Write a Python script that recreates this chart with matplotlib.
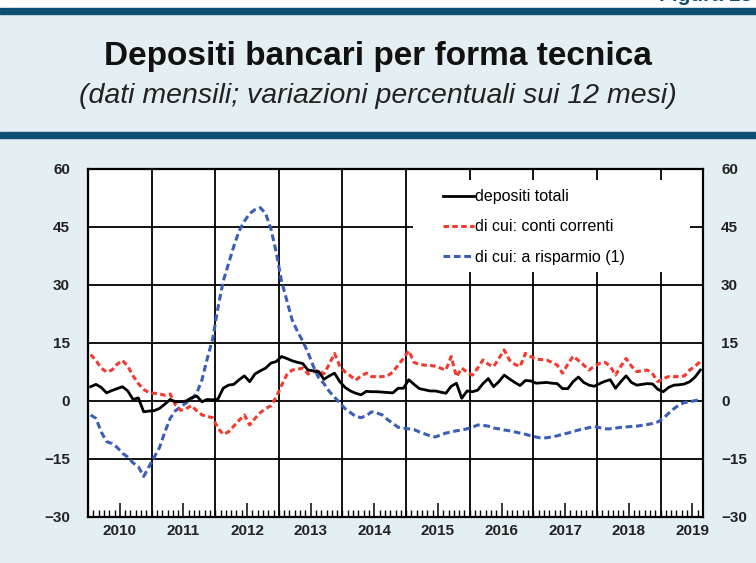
import numpy as np
import matplotlib
matplotlib.use("Agg")
import matplotlib.pyplot as plt
from matplotlib.patches import Rectangle

plt.rcParams['font.family'] = ['Liberation Sans', 'DejaVu Sans']

# monthly data, Jan 2010 - Aug 2019
years = [2010, 2011, 2012, 2013, 2014, 2015, 2016, 2017, 2018, 2019]

totali = [3.7, 4.3, 3.5, 2.1, 2.7, 3.2, 3.7, 2.6, 0.4, 0.8, -2.8, -2.6,
          -2.5, -1.9, -0.8, 0.4, -0.2, -0.2, 0.0, 0.8, 1.3, -0.2, 0.4, 0.3,
          0.5, 3.3, 4.1, 4.3, 5.5, 6.5, 5.0, 7.0, 7.8, 8.5, 9.8, 10.2,
          11.5, 11.0, 10.4, 10.0, 9.7, 8.0, 7.8, 7.6, 5.6, 6.5, 7.2, 5.0,
          3.5, 2.6, 2.0, 1.6, 2.5, 2.4, 2.4, 2.3, 2.2, 2.1, 3.3, 3.3,
          5.5, 4.3, 3.2, 2.9, 2.6, 2.6, 2.3, 2.0, 3.8, 4.6, 0.7, 2.6,
          2.4, 2.8, 4.5, 5.8, 3.7, 5.0, 6.7, 5.7, 4.8, 4.0, 5.3, 5.2,
          4.6, 4.7, 4.8, 4.6, 4.5, 3.2, 3.2, 5.0, 6.2, 4.8, 4.1, 3.8,
          4.5, 5.1, 5.5, 3.3, 5.0, 6.5, 4.8, 4.1, 4.3, 4.5, 4.4, 3.0,
          2.4, 3.5, 4.1, 4.2, 4.4, 5.0, 6.2, 8.0]

conti = [12.0, 10.5, 8.5, 7.5, 8.0, 9.5, 10.5, 9.0, 6.5, 4.5, 3.0, 2.2,
         2.0, 1.8, 1.5, 1.8, -1.0, -2.4, -2.0, -1.2, -2.5, -3.6, -4.0, -4.3,
         -7.0, -8.6, -8.0, -6.5, -5.0, -3.6, -6.2, -4.5, -3.0, -2.0, -1.2, 1.0,
         4.0, 6.8, 8.0, 8.2, 8.5, 7.0, 7.5, 8.0, 7.0, 9.5, 12.3, 9.0,
         7.5, 6.5, 5.4, 6.5, 7.2, 6.3, 6.3, 6.3, 6.5, 7.5, 9.3, 11.0,
         13.0, 10.0, 9.4, 9.3, 9.2, 9.0, 8.5, 8.0, 11.5, 6.3, 8.5, 7.5,
         6.7, 8.5, 10.6, 9.5, 8.9, 11.0, 13.2, 10.6, 9.5, 8.9, 12.3, 11.5,
         10.8, 10.7, 10.6, 10.0, 9.3, 7.2, 9.5, 11.6, 10.5, 9.3, 8.0, 9.0,
         9.7, 10.0, 9.0, 6.7, 9.0, 11.0, 9.0, 7.6, 7.8, 8.0, 7.0, 5.0,
         5.8, 6.3, 6.3, 6.3, 6.5, 8.0, 9.0, 10.2]

risparmio = [-3.6, -4.5, -8.0, -10.5, -11.0, -12.0, -13.5, -14.5, -16.0, -17.0, -19.5, -17.0,
             -14.5, -12.0, -8.0, -4.5, -2.5, -1.5, -0.5, 0.5, 2.0, 5.5, 11.0, 16.0,
             24.0, 31.0, 35.5, 40.0, 44.0, 46.5, 48.5, 49.5, 50.0, 48.5, 44.5, 38.5,
             31.0, 26.0, 21.0, 18.0, 15.5, 12.5, 9.0, 6.0, 4.5, 2.5, 1.0, -0.5,
             -2.0, -3.0, -4.0, -4.3, -3.8, -2.8, -3.1, -3.6, -4.8, -5.8, -6.8, -7.0,
             -7.2, -7.4, -8.0, -8.5, -9.0, -9.3, -8.8, -8.3, -8.0, -7.7, -7.5, -7.2,
             -6.8, -6.2, -6.3, -6.5, -7.0, -7.2, -7.5, -7.7, -8.0, -8.3, -8.6, -9.0,
             -9.3, -9.6, -9.5, -9.3, -9.0, -8.6, -8.3, -7.9, -7.5, -7.2, -6.9, -6.6,
             -6.9, -7.2, -7.2, -7.0, -6.8, -6.7, -6.6, -6.5, -6.3, -6.1, -5.8, -5.4,
             -4.5, -3.2, -2.0, -1.0, -0.4, -0.2, 0.1, 0.4]

labels = ['depositi totali', 'di cui: conti correnti', 'di cui: a risparmio (1)']
yticks = [-30, -15, 0, 15, 30, 45, 60]

bg = '#e4eff4'
navy = '#0d4f72'
red = '#f23a2e'
blue = '#3b5fb8'

fig = plt.figure(figsize=(7.56, 5.63), dpi=100)
fig.patch.set_facecolor(bg)

# header: white strip, dark rules
fig.add_artist(Rectangle((0, 1 - 9 / 563), 1, 9 / 563, transform=fig.transFigure,
                         color='white', zorder=0))
fig.add_artist(Rectangle((0, 1 - 14 / 563), 1, 6 / 563, transform=fig.transFigure,
                         color=navy, zorder=1))
fig.add_artist(Rectangle((0, 1 - 138 / 563), 1, 6 / 563, transform=fig.transFigure,
                         color=navy, zorder=1))
# page label, cut by the top edge as in the source
fig.text(0.995, 1 - 1 / 563, 'Figura 13', ha='right', va='baseline',
         fontsize=15, fontweight='bold', color=navy, zorder=0.5)

fig.text(0.5, 1 - 56 / 563, 'Depositi bancari per forma tecnica', ha='center', va='center',
         fontsize=24, fontweight='bold', color='#111111')
fig.text(0.5, 1 - 96 / 563, '(dati mensili; variazioni percentuali sui 12 mesi)',
         ha='center', va='center', fontsize=20.5, style='italic', color='#222222')

ax = fig.add_axes([88 / 756, 46 / 563, 615 / 756, 348 / 563])
ax.set_facecolor('white')

n = len(totali)
x = np.arange(n) + 0.5

ax.plot(x, risparmio, color=blue, lw=2.2, dashes=(2.2, 1.2), label=labels[2], zorder=3)
ax.plot(x, conti, color=red, lw=2.2, dashes=(1.8, 1.1), label=labels[1], zorder=4)
ax.plot(x, totali, color='black', lw=2.0, label=labels[0], zorder=5)

ax.set_xlim(0, n)
ax.set_ylim(-30, 60)

# grid: year boundaries and every 15 points
for k in range(1, len(years)):
    ax.axvline(12 * k, color='black', lw=1.3, zorder=1)
for v in yticks[1:-1]:
    ax.axhline(v, color='black', lw=1.3, zorder=1)

ax.set_yticks(yticks)
ax.tick_params(axis='y', length=0, labelsize=11, left=True, right=True,
               labelleft=True, labelright=True, pad=13)
ax.set_xticks([12 * k + 6 for k in range(len(years))])
ax.set_xticklabels([str(y) for y in years])
ax.set_xticks(np.arange(1, n), minor=True)
ax.tick_params(axis='x', which='major', direction='in', length=10, width=1.1,
               labelsize=11, pad=5)
ax.tick_params(axis='x', which='minor', direction='in', length=5, width=1.0)
for lab in ax.get_xticklabels() + ax.get_yticklabels():
    lab.set_fontweight('bold')
    lab.set_color('#222222')

for s in ax.spines.values():
    s.set_linewidth(1.6)

# white box behind the legend
ax.add_patch(Rectangle((0.528, 0.704), 0.451, 0.264, transform=ax.transAxes,
                       facecolor='white', edgecolor='none', zorder=2))
h, l = ax.get_legend_handles_labels()
leg = ax.legend(h[::-1], l[::-1], loc='upper left', bbox_to_anchor=(0.578, 0.942),
                frameon=False, fontsize=11.5, handlelength=1.9, handletextpad=0.05,
                labelspacing=0.95, borderpad=0, borderaxespad=0)
leg.set_zorder(6)

fig.savefig('out.png', dpi=100, facecolor=bg)
